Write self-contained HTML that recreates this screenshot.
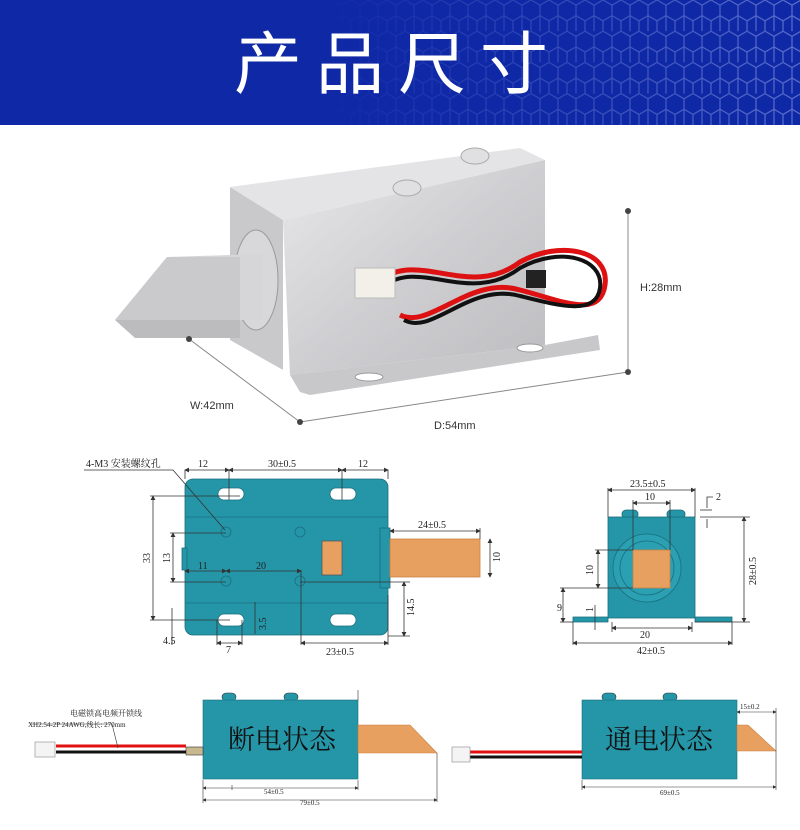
<!DOCTYPE html>
<html><head><meta charset="utf-8"><style>
html,body{margin:0;padding:0;background:#fff;width:800px;height:830px;overflow:hidden}
svg{display:block}
text{font-family:"Liberation Serif","Noto Serif CJK SC",serif}
.s{font-family:"Liberation Sans","Noto Sans CJK SC",sans-serif}
</style></head><body>
<svg width="800" height="830" viewBox="0 0 800 830" xmlns="http://www.w3.org/2000/svg">
<defs>
<pattern id="hex" width="18" height="31.2" patternUnits="userSpaceOnUse">
<path d="M9 0 L18 5.2 L18 15.6 L9 20.8 L0 15.6 L0 5.2 Z M9 20.8 L9 31.2 M0 15.6 L0 31.2 M18 15.6 L18 31.2" fill="none" stroke="#aab8f0" stroke-width="1.2"/>
</pattern>
<linearGradient id="fade" x1="0" x2="1" y1="0" y2="0">
<stop offset="0.4" stop-color="#fff" stop-opacity="0"/>
<stop offset="1" stop-color="#fff" stop-opacity="1"/>
</linearGradient>
<mask id="m"><rect x="0" y="0" width="800" height="125" fill="url(#fade)"/></mask>
<linearGradient id="metal" x1="0" x2="1" y1="0" y2="1">
<stop offset="0" stop-color="#e8e8ea"/><stop offset="0.5" stop-color="#cfcfd2"/><stop offset="1" stop-color="#bdbdc0"/>
</linearGradient>
<marker id="a" markerWidth="6" markerHeight="6" refX="5" refY="3" orient="auto"><path d="M0 0 L6 3 L0 6 Z" fill="#333"/></marker>
<marker id="b" markerWidth="6" markerHeight="6" refX="1" refY="3" orient="auto"><path d="M6 0 L0 3 L6 6 Z" fill="#333"/></marker>
</defs>

<!-- header -->
<rect x="0" y="0" width="800" height="125" fill="#0f28a6"/>
<rect x="0" y="0" width="800" height="125" fill="url(#hex)" mask="url(#m)" opacity="0.5"/>
<text x="398" y="88" text-anchor="middle" fill="#fff" font-size="68" letter-spacing="14" class="s" style="font-family:'Noto Sans CJK SC',sans-serif">产品尺寸</text>

<!-- product photo -->
<polygon points="230,187 520,148 545,160 283,220" fill="#e4e4e6"/>
<polygon points="230,187 283,220 283,370 230,340" fill="#c9c9cc"/>
<polygon points="283,220 545,160 545,345 290,375" fill="url(#metal)"/>
<polygon points="290,375 545,345 598,335 600,350 310,395 300,392" fill="#c8c8cb"/>
<ellipse cx="369" cy="377" rx="14" ry="4" fill="#fff" stroke="#999"/>
<ellipse cx="530" cy="348" rx="13" ry="4" fill="#fff" stroke="#999"/>
<ellipse cx="407" cy="188" rx="14" ry="8" fill="#e0e0e2" stroke="#aaa"/>
<ellipse cx="475" cy="156" rx="14" ry="8" fill="#e0e0e2" stroke="#aaa"/>
<ellipse cx="256" cy="280" rx="22" ry="50" fill="#d8d8da" stroke="#999"/>
<polygon points="115,320 167,257 262,254 262,320" fill="#d6d6d8"/>
<polygon points="167,257 240,257 240,320 115,320" fill="#cacacd"/>
<polygon points="115,320 240,320 240,338 135,338" fill="#bcbcbf"/>
<path d="M380 280 C420 250,470 300,520 262 C560 240,610 250,605 285 C600 320,560 300,520 290 C470 275,430 330,400 315" fill="none" stroke="#d11" stroke-width="5"/>
<path d="M384 286 C420 258,470 306,520 268 C560 246,604 258,600 288 C596 316,560 306,520 296 C470 282,432 336,404 320" fill="none" stroke="#111" stroke-width="4"/>
<rect x="355" y="268" width="40" height="30" fill="#f2f0e8" stroke="#bbb"/>
<rect x="526" y="270" width="20" height="18" fill="#222"/>
<!-- dims -->
<line x1="628" y1="211" x2="628" y2="372" stroke="#888"/>
<line x1="189" y1="339" x2="300" y2="422" stroke="#888"/>
<line x1="300" y1="422" x2="628" y2="372" stroke="#888"/>
<circle cx="628" cy="211" r="3" fill="#444"/><circle cx="628" cy="372" r="3" fill="#444"/>
<circle cx="189" cy="339" r="3" fill="#444"/><circle cx="300" cy="422" r="3" fill="#444"/>
<text class="s" x="190" y="409" font-size="11" fill="#333">W:42mm</text>
<text class="s" x="434" y="429" font-size="11" fill="#333">D:54mm</text>
<text class="s" x="640" y="291" font-size="11" fill="#333">H:28mm</text>

<!-- top-left drawing -->
<g stroke="#333" stroke-width="0.8" fill="none">
<rect x="185" y="479" width="203" height="156" rx="8" fill="#2496a8" stroke="#1b6f7c"/>
<line x1="185" y1="517" x2="388" y2="517" stroke="#1b6f7c"/>
<line x1="185" y1="603" x2="388" y2="603" stroke="#1b6f7c"/>
<rect x="218" y="488" width="26" height="12" rx="6" fill="#fff" stroke="#1b6f7c"/>
<rect x="330" y="488" width="26" height="12" rx="6" fill="#fff" stroke="#1b6f7c"/>
<rect x="218" y="614" width="26" height="12" rx="6" fill="#fff" stroke="#1b6f7c"/>
<rect x="330" y="614" width="26" height="12" rx="6" fill="#fff" stroke="#1b6f7c"/>
<circle cx="226" cy="532" r="5" stroke="#1b6f7c"/><circle cx="300" cy="532" r="5" stroke="#1b6f7c"/>
<circle cx="226" cy="581" r="5" stroke="#1b6f7c"/><circle cx="300" cy="581" r="5" stroke="#1b6f7c"/>
<rect x="322" y="541" width="20" height="34" fill="#e8a060" stroke="#555"/>
<rect x="380" y="528" width="10" height="60" fill="#2496a8" stroke="#1b6f7c"/>
<rect x="182" y="548" width="5" height="22" fill="#2496a8" stroke="#1b6f7c"/>
<rect x="390" y="539" width="90" height="38" fill="#e8a060" stroke="#c98040"/>
<path d="M84 470 H173 L225 530"/>
<line x1="185" y1="470" x2="185" y2="479"/><line x1="229" y1="470" x2="229" y2="500"/><line x1="342" y1="470" x2="342" y2="500"/><line x1="388" y1="470" x2="388" y2="479"/>
<line x1="185" y1="470" x2="229" y2="470" marker-start="url(#b)" marker-end="url(#a)"/>
<line x1="229" y1="470" x2="342" y2="470" marker-start="url(#b)" marker-end="url(#a)"/>
<line x1="342" y1="470" x2="388" y2="470" marker-start="url(#b)" marker-end="url(#a)"/>
<line x1="150" y1="496" x2="240" y2="496"/><line x1="150" y1="620" x2="230" y2="620"/>
<line x1="153" y1="496" x2="153" y2="620" marker-start="url(#b)" marker-end="url(#a)"/>
<line x1="170" y1="533" x2="226" y2="533"/><line x1="170" y1="582" x2="226" y2="582"/>
<line x1="173" y1="533" x2="173" y2="582" marker-start="url(#b)" marker-end="url(#a)"/>
<line x1="185" y1="571" x2="226" y2="571" marker-start="url(#b)" marker-end="url(#a)"/>
<line x1="226" y1="571" x2="301" y2="571" marker-start="url(#b)" marker-end="url(#a)"/>
<line x1="301" y1="570" x2="301" y2="645"/>
<line x1="301" y1="643" x2="388" y2="643" marker-start="url(#b)" marker-end="url(#a)"/>
<line x1="388" y1="595" x2="388" y2="645"/>
<line x1="390" y1="531" x2="480" y2="531" marker-start="url(#b)" marker-end="url(#a)"/>
<line x1="480" y1="528" x2="480" y2="539"/>
<line x1="490" y1="539" x2="490" y2="577" marker-start="url(#b)" marker-end="url(#a)"/>
<line x1="300" y1="582" x2="410" y2="582"/><line x1="388" y1="636" x2="410" y2="636"/>
<line x1="404" y1="582" x2="404" y2="636" marker-start="url(#b)" marker-end="url(#a)"/>
<line x1="172" y1="608" x2="172" y2="645"/>
<line x1="217" y1="620" x2="217" y2="645"/><line x1="242" y1="620" x2="242" y2="645"/>
<line x1="217" y1="643" x2="242" y2="643" marker-start="url(#b)" marker-end="url(#a)"/>
<line x1="255" y1="602" x2="255" y2="634"/>
</g>
<g font-size="10" fill="#222">
<text x="86" y="467">4-M3 安装螺纹孔</text>
<text x="198" y="467">12</text><text x="268" y="467">30±0.5</text><text x="358" y="467">12</text>
<text x="198" y="569">11</text><text x="256" y="569">20</text>
<text x="418" y="528">24±0.5</text>
<text x="163" y="644">4.5</text><text x="226" y="653">7</text><text x="326" y="655">23±0.5</text>
<text transform="translate(150,563) rotate(-90)">33</text>
<text transform="translate(170,563) rotate(-90)">13</text>
<text transform="translate(500,562) rotate(-90)">10</text>
<text transform="translate(414,616) rotate(-90)">14.5</text>
<text transform="translate(266,630) rotate(-90)">3.5</text>
</g>

<!-- right drawing -->
<g stroke="#333" stroke-width="0.8" fill="none">
<rect x="622" y="510" width="16" height="9" rx="4" fill="#2496a8" stroke="#1b6f7c"/>
<rect x="667" y="510" width="18" height="9" rx="4" fill="#2496a8" stroke="#1b6f7c"/>
<rect x="608" y="517" width="87" height="101" fill="#2496a8" stroke="#1b6f7c"/>
<path d="M573 617 H608 V622 H573 Z M695 617 H732 V622 H695 Z" fill="#2496a8" stroke="#1b6f7c"/>
<circle cx="647" cy="568" r="34" fill="#2aa0b2" stroke="#1b6f7c"/>
<circle cx="647" cy="568" r="27" stroke="#1b6f7c"/>
<rect x="633" y="550" width="37" height="38" fill="#e8a060" stroke="#c98040"/>
<line x1="608" y1="488" x2="608" y2="517"/><line x1="695" y1="488" x2="695" y2="517"/>
<line x1="608" y1="490" x2="695" y2="490" marker-start="url(#b)" marker-end="url(#a)"/>
<line x1="633" y1="500" x2="633" y2="550"/><line x1="670" y1="500" x2="670" y2="550"/>
<line x1="633" y1="503" x2="670" y2="503" marker-start="url(#b)" marker-end="url(#a)"/>
<path d="M707 508 V497 H713"/><line x1="700" y1="510" x2="712" y2="510"/><line x1="700" y1="517" x2="750" y2="517"/><line x1="707" y1="519" x2="707" y2="528"/>
<line x1="695" y1="622" x2="750" y2="622"/>
<line x1="744" y1="517" x2="744" y2="622" marker-start="url(#b)" marker-end="url(#a)"/>
<line x1="595" y1="550" x2="633" y2="550"/><line x1="560" y1="588" x2="633" y2="588"/>
<line x1="598" y1="550" x2="598" y2="588" marker-start="url(#b)" marker-end="url(#a)"/>
<line x1="563" y1="588" x2="563" y2="622" marker-start="url(#b)" marker-end="url(#a)"/>
<line x1="560" y1="622" x2="573" y2="622"/>
<line x1="595" y1="605" x2="595" y2="630"/>
<line x1="612" y1="622" x2="612" y2="632"/><line x1="692" y1="622" x2="692" y2="632"/>
<line x1="612" y1="628" x2="692" y2="628" marker-start="url(#b)" marker-end="url(#a)"/>
<line x1="573" y1="622" x2="573" y2="645"/><line x1="732" y1="622" x2="732" y2="645"/>
<line x1="573" y1="643" x2="732" y2="643" marker-start="url(#b)" marker-end="url(#a)"/>
</g>
<g font-size="10" fill="#222">
<text x="630" y="487">23.5±0.5</text><text x="645" y="500">10</text><text x="716" y="500">2</text>
<text x="640" y="638">20</text><text x="637" y="654">42±0.5</text>
<text transform="translate(593,575) rotate(-90)">10</text>
<text x="557" y="611">9</text><text transform="translate(593,612) rotate(-90)">1</text>
<text transform="translate(756,585) rotate(-90)">28±0.5</text>
</g>

<!-- bottom left -->
<g stroke="#333" stroke-width="0.6" fill="none">
<rect x="222" y="693" width="14" height="8" rx="4" fill="#2496a8"/>
<rect x="284" y="693" width="14" height="8" rx="4" fill="#2496a8"/>
<rect x="203" y="700" width="155" height="79" fill="#2496a8" stroke="#1b6f7c"/>
<polygon points="358,725 410,725 437,753 358,753" fill="#e8a060" stroke="#c98040"/>
<rect x="186" y="747" width="17" height="8" fill="#c8b890"/>
<line x1="56" y1="746" x2="186" y2="746" stroke="#e01010" stroke-width="3"/>
<line x1="56" y1="752" x2="186" y2="752" stroke="#111" stroke-width="3"/>
<rect x="35" y="742" width="20" height="15" fill="#f4f4f4" stroke="#888"/>
<path d="M30 724 H112 L118 748"/>
<line x1="203" y1="780" x2="203" y2="803"/><line x1="232" y1="785" x2="232" y2="790"/>
<line x1="203" y1="788" x2="358" y2="788" marker-start="url(#b)" marker-end="url(#a)"/>
<line x1="358" y1="780" x2="358" y2="790"/>
<line x1="437" y1="753" x2="437" y2="802"/>
<line x1="203" y1="800" x2="437" y2="800" marker-start="url(#b)" marker-end="url(#a)"/>
<line x1="358" y1="690" x2="358" y2="700"/>
</g>
<text x="282" y="749" font-size="27" fill="#111" text-anchor="middle">断电状态</text>
<text x="70" y="716" font-size="8" fill="#222">电磁锁高电频开锁线</text>
<text x="28" y="727" font-size="7" fill="#222">XH2.54-2P 24AWG,线长: 270mm</text>
<text x="264" y="794" font-size="7" fill="#222">54±0.5</text>
<text x="300" y="805" font-size="7" fill="#222">79±0.5</text>

<!-- bottom right -->
<g stroke="#333" stroke-width="0.6" fill="none">
<rect x="602" y="693" width="14" height="8" rx="4" fill="#2496a8"/>
<rect x="663" y="693" width="14" height="8" rx="4" fill="#2496a8"/>
<rect x="582" y="700" width="155" height="79" fill="#2496a8" stroke="#1b6f7c"/>
<polygon points="737,725 748,725 776,751 737,751" fill="#e8a060" stroke="#c98040"/>
<line x1="470" y1="752" x2="582" y2="752" stroke="#e01010" stroke-width="3"/>
<line x1="470" y1="757" x2="582" y2="757" stroke="#111" stroke-width="3"/>
<rect x="452" y="747" width="18" height="15" fill="#f4f4f4" stroke="#888"/>
<line x1="737" y1="712" x2="776" y2="712" marker-start="url(#b)" marker-end="url(#a)"/>
<line x1="776" y1="708" x2="776" y2="790"/>
<line x1="582" y1="780" x2="582" y2="790"/>
<line x1="582" y1="787" x2="776" y2="787" marker-start="url(#b)" marker-end="url(#a)"/>
</g>
<text x="659" y="749" font-size="27" fill="#111" text-anchor="middle">通电状态</text>
<text x="740" y="709" font-size="7" fill="#222">15±0.2</text>
<text x="660" y="795" font-size="7" fill="#222">69±0.5</text>
</svg>
</body></html>
